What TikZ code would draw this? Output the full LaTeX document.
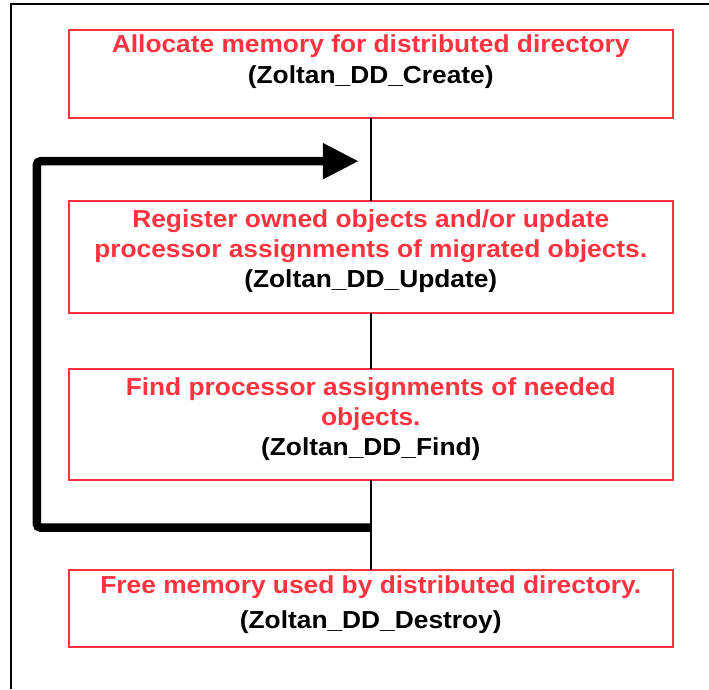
\documentclass[tikz,border=0pt]{standalone}
\usepackage{fontspec}
\setmainfont[FakeStretch=1.07]{Liberation Sans}
\usetikzlibrary{positioning,arrows.meta,calc}
\definecolor{boxred}{RGB}{255,51,64}

\begin{document}
\begin{tikzpicture}[
x=1pt, y=-1pt,
node distance=83pt,
stepbox/.style={
    draw=boxred,
    line width=2pt,
    minimum width=604.5pt,
    inner sep=0pt,
    outer sep=0pt
},
steptext/.style={
    inner sep=0pt,
    align=center,
    font=\bfseries\fontsize{24.6}{30}\selectfont,
    text=boxred
},
flowline/.style={line width=1.6pt},
loopline/.style={line width=8.5pt, rounded corners=4pt},
>=Stealth
]
\useasboundingbox (0,0) rectangle (709,689);

% frame, open at right and bottom
\draw[line width=2pt] (11,689) -- (11,3.7) -- (709,3.7);

\node (create) [stepbox, minimum height=88pt, anchor=north] at (370.75,30) {};
\node (register) [stepbox, minimum height=112pt, below=of create] {};
\node (find) [stepbox, minimum height=111pt, below=56pt of register] {};
\node (destroy) [stepbox, minimum height=77pt, below=90pt of find] {};

\node (createtxt) [steptext, below=4.6pt of create.north]
{Allocate memory for distributed directory\\[1pt]
\textcolor{black}{(Zoltan\_DD\_Create)}};

\node (registertxt) [steptext, below=8.6pt of register.north]
{Register owned objects and/or update\\
processor assignments of migrated objects.\\
\textcolor{black}{(Zoltan\_DD\_Update)}};

\node (findtxt) [steptext, below=8.6pt of find.north]
{Find processor assignments of needed\\
objects.\\
\textcolor{black}{(Zoltan\_DD\_Find)}};

\node (destroytxt) [steptext, below=5.3pt of destroy.north]
{Free memory used by distributed directory.\\[5pt]
\textcolor{black}{(Zoltan\_DD\_Destroy)}};

\draw[flowline] (create) -- (register);
\draw[flowline] (register) -- (find);
\draw[flowline] (find) -- (destroy);

% feedback loop
\coordinate (loopin) at ($(find.south)!0.53!(destroy.north)$);
\coordinate (loopout) at ($(create.south)!0.52!(register.north) + (-12,0)$);
\draw[loopline, -{Triangle[length=36pt,width=34pt]}] (loopin) -- ++(-334,0) |- (loopout);

\end{tikzpicture}
\end{document}
